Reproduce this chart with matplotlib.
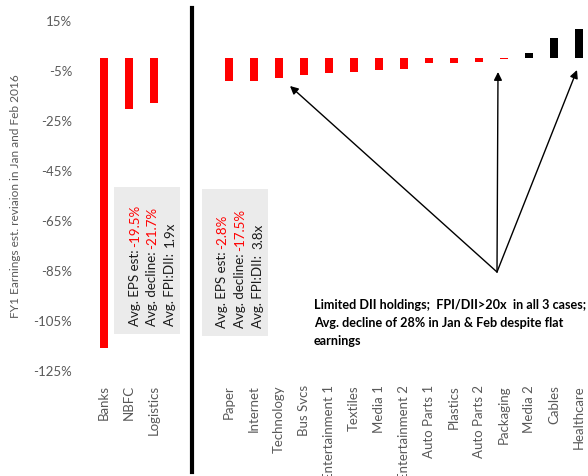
import matplotlib
matplotlib.use("Agg")
import matplotlib.pyplot as plt
from matplotlib.patches import Rectangle
from matplotlib.lines import Line2D

plt.rcParams['font.family'] = ['Lato', 'DejaVu Sans']

categories = ["Banks", "NBFC", "Logistics", "", "",
              "Paper", "Internet", "Technology", "Bus Svcs", "Entertainment 1",
              "Textiles", "Media 1", "Entertainment 2", "Auto Parts 1", "Plastics",
              "Auto Parts 2", "Packaging", "Media 2", "Cables", "Healthcare"]
values = [-116.0, -20.6, -18.2, None, None,
          -9.3, -9.4, -8.3, -7.1, -6.2,
          -5.8, -4.9, -4.5, -2.2, -2.1,
          -1.9, -0.5, 1.9, 7.8, 11.4]
yticks = [15, -5, -25, -45, -65, -85, -105, -125]

box_left = [("Avg. EPS est: ", "-19.5%"), ("Avg. decline: ", "-21.7%"), ("Avg. FPI:DII:  ", "1.9x")]
box_right = [("Avg. EPS est: ", "-2.8%"), ("Avg. decline: ", "-17.5%"), ("Avg. FPI:DII:  ", "3.8x")]
note = "Limited DII holdings;  FPI/DII>20x  in all 3 cases;\nAvg. decline of 28% in Jan & Feb despite flat\nearnings"

W, H = 588, 477
fig = plt.figure(figsize=(W / 100, H / 100), dpi=100)
ax = fig.add_axes([91.5 / W, 1 - 371 / H, (588 - 91.5) / W, (371 - 21) / H])

xs = [i for i, v in enumerate(values) if v is not None]
vs = [v for v in values if v is not None]
cols = ['#ff0000' if v < 0 else '#000000' for v in vs]
ax.bar(xs, vs, width=0.32, color=cols, zorder=3)

ax.set_xlim(-0.5, 19.36)
ax.set_ylim(-125, 15)
ax.set_yticks(yticks)
ax.set_yticklabels([f"{t}%" for t in yticks], fontsize=9.5, color='#595959')
ax.set_xticks(range(len(categories)))
ax.set_xticklabels(categories, rotation=90, fontsize=9.5, color='#595959', va='top', ha='center')
ax.tick_params(length=0)
ax.tick_params(axis='y', pad=14)
ax.tick_params(axis='x', pad=10)
for s in ax.spines.values():
    s.set_visible(False)
ax.set_ylabel("FY1 Earnings est. reviaion in Jan and Feb 2016", fontsize=8.6, color='#595959')
ax.yaxis.set_label_coords(-0.142, 0.5)

# gray boxes
ax.add_patch(Rectangle((0.4, -110.6), 2.64, 58.8, facecolor='#ebebeb', edgecolor='none', zorder=2))
ax.add_patch(Rectangle((3.92, -111.4), 2.62, 58.8, facecolor='#ebebeb', edgecolor='none', zorder=2))

fig.canvas.draw()
renderer = fig.canvas.get_renderer()

def two_color(x, y, parts):
    first, second = parts
    t = ax.text(x, y, first, rotation=90, ha='center', va='bottom', fontsize=9.6,
                color='#1a1a1a', zorder=4)
    bb = t.get_window_extent(renderer)
    inv = ax.transData.inverted()
    _, ytop = inv.transform((0, bb.y1 - 1))
    ax.text(x, ytop, second, rotation=90, ha='center', va='bottom', fontsize=9.6,
            color='#ff0000' if second.startswith('-') else '#1a1a1a', zorder=4)

def px2data(px, py):
    return ((px - 104) / 25.0, (58.5 - py) / 2.5)

for i, parts in enumerate(box_left):
    x, _ = px2data([135, 152.5, 170][i], 0)
    _, y = px2data(0, 326)
    two_color(x, y, parts)
for i, parts in enumerate(box_right):
    x, _ = px2data([222, 240, 258][i], 0)
    _, y = px2data(0, 328)
    two_color(x, y, parts)

# note text
nx, ny = px2data(314, 299)
ax.text(nx, ny, note, fontsize=9.1, fontweight='bold', color='#000000', va='top', ha='left',
        linespacing=1.6, zorder=5)

# arrows
origin = px2data(497, 273)
for tgt in [(290, 87), (498, 73), (577, 71)]:
    ax.annotate("", xy=px2data(*tgt), xytext=origin,
                arrowprops=dict(arrowstyle='-|>', color='black', lw=1.0,
                                mutation_scale=12, shrinkA=0, shrinkB=0), zorder=5)

# vertical separator line
fig.add_artist(Line2D([192 / W, 192 / W], [1 - 9 / H, 1 - 473 / H], color='black', lw=3, transform=fig.transFigure))

fig.savefig("out.png", dpi=100)
